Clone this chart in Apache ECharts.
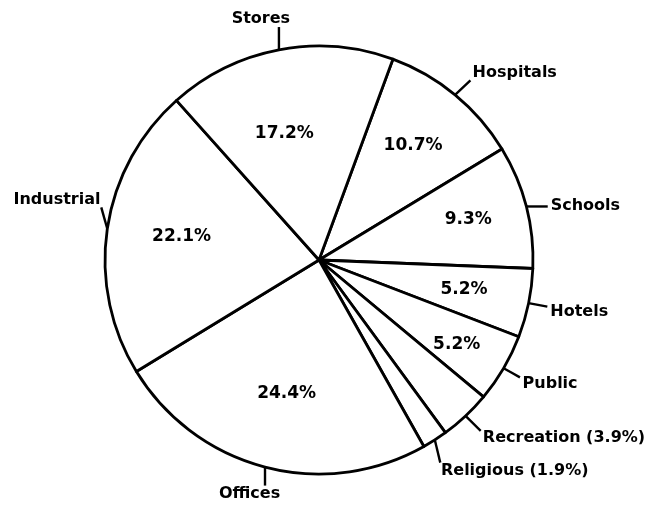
<!DOCTYPE html>
<html>
<head>
<meta charset="utf-8">
<script src="https://cdn.jsdelivr.net/npm/echarts@6/dist/echarts.min.js"></script>
<style>
  html, body { margin: 0; padding: 0; background: #fff; }
  #chart { width: 663px; height: 506px; }
</style>
</head>
<body>
<div id="chart"></div>
<script>
// slices in clockwise order, starting from the Stores/Hospitals boundary
var categories = ['Hospitals', 'Schools', 'Hotels', 'Public', 'Recreation', 'Religious', 'Offices', 'Industrial', 'Stores'];
var values = [10.7, 9.3, 5.2, 5.2, 3.9, 1.9, 24.4, 22.1, 17.2];
var outerLabels = ['Hospitals', 'Schools', 'Hotels', 'Public', 'Recreation (3.9%)', 'Religious (1.9%)', 'Offices', 'Industrial', 'Stores'];
var innerLabels = ['10.7%', '9.3%', '5.2%', '5.2%', '', '', '24.4%', '22.1%', '17.2%'];

var chart = echarts.init(document.getElementById('chart'));

var pieData = categories.map(function (name, i) {
  return { name: name, value: values[i] };
});

// nudges so the labels sit where the original drawing put them
var outerTweak = {
  Hospitals: { dx: 4, dy: -10 },
  Schools: { dx: 6, dy: 3 },
  Hotels: { dx: 3, dy: 6 },
  Public: { dx: 2, dy: 8 },
  Recreation: { dx: 3, dy: 11 },
  Religious: { dx: -6, dy: 18 },
  Offices: { dx: 23, dy: 12 },
  Industrial: { dx: 12, dy: -27 },
  Stores: { dx: 18, dy: -16 }
};
var innerTweak = {
  Stores: { dx: -7, dy: 19 },
  Industrial: { dx: 9, dy: -2 },
  Public: { dx: 10, dy: 10 },
  Schools: { dx: 6, dy: -3 },
  Offices: { dx: 5, dy: -10 }
};

// move the label, then redraw its leader as one straight tick from the rim to the text
function outerLayout(p) {
  var t = outerTweak[categories[p.dataIndex]] || { dx: 0, dy: 0 };
  var r = p.labelRect;
  var x0 = r.x + t.dx, y0 = r.y + t.dy;
  var x1 = x0 + r.width, y1 = y0 + r.height;
  var s = p.labelLinePoints[0];
  var ex = Math.min(Math.max(s[0], x0), x1);
  var ey = Math.min(Math.max(s[1], y0 + 3), y1 - 3);
  var vx = s[0] - ex, vy = s[1] - ey;
  var len = Math.sqrt(vx * vx + vy * vy) || 1;
  ex += vx / len * 3;
  ey += vy / len * 3;
  return {
    dx: t.dx,
    dy: t.dy,
    labelLinePoints: [[s[0], s[1]], [(s[0] + ex) / 2, (s[1] + ey) / 2], [ex, ey]]
  };
}

function innerLayout(p) {
  return innerTweak[categories[p.dataIndex]] || {};
}

var font = 'DejaVu Sans';

chart.setOption({
  backgroundColor: '#fff',
  animation: false,
  series: [
    {
      type: 'pie',
      center: [319, 260],
      radius: [0, 214],
      startAngle: 69.8,
      clockwise: true,
      avoidLabelOverlap: false,
      itemStyle: { color: '#fff', borderColor: '#000', borderWidth: 2.8 },
      label: {
        show: true,
        position: 'outside',
        color: '#000',
        fontFamily: font,
        fontWeight: 'bold',
        fontSize: 16,
        distanceToLabelLine: 4,
        formatter: function (p) { return outerLabels[p.dataIndex]; }
      },
      labelLine: {
        show: true,
        length: 15,
        length2: 0,
        lineStyle: { color: '#000', width: 2.4 }
      },
      labelLayout: outerLayout,
      emphasis: { disabled: true },
      data: pieData
    },
    {
      // transparent ring, only used to place the percentages
      type: 'pie',
      center: [319, 260],
      radius: [76, 214],
      startAngle: 69.8,
      clockwise: true,
      silent: true,
      itemStyle: { color: 'transparent', borderWidth: 0 },
      label: {
        show: true,
        position: 'inside',
        color: '#000',
        fontFamily: font,
        fontWeight: 'bold',
        fontSize: 17,
        formatter: function (p) { return innerLabels[p.dataIndex]; }
      },
      labelLine: { show: false },
      labelLayout: innerLayout,
      emphasis: { disabled: true },
      data: pieData
    }
  ]
});
</script>
</body>
</html>
